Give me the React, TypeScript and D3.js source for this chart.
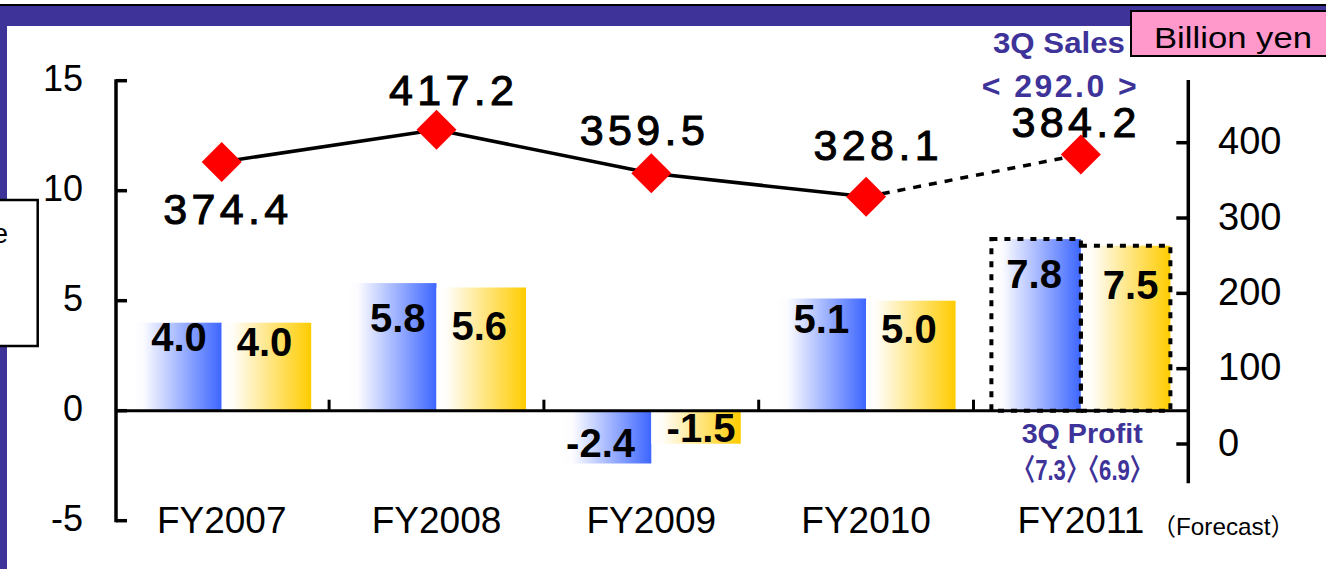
import React from 'react';
import * as d3 from 'd3';

// ---- data ----
const categories = ['FY2007', 'FY2008', 'FY2009', 'FY2010', 'FY2011'];
const profitBlue = [4.0, 5.8, -2.4, 5.1, 7.8];
const profitYellow = [4.0, 5.6, -1.5, 5.0, 7.5];
const sales = [374.4, 417.2, 359.5, 328.1, 384.2];
const leftTicks = [15, 10, 5, 0, -5];
const rightTicks = [0, 100, 200, 300, 400];
const forecastIndex = 4;
const unitLabel = 'Billion yen';
const salesNoteTitle = '3Q Sales';
const salesNoteValue = '< 292.0 >';
const profitNoteTitle = '3Q Profit';
const profitNoteValue = '〈7.3〉〈6.9〉';
const forecastLabel = '（Forecast）';

// label nudges (layout only)
const blueLabelNudge = [[2, 28], [6, 49], [-6, -7], [0, 34], [-2, 49]];
const yellowLabelNudge = [[-2, 33], [-2, 52], [5, -2], [-2, 42], [5, 53]];
const salesLabelNudge = [[4, 62], [15, -25], [-9, -28], [10, -37], [-7, -18]];

const W = 1326;
const H = 569;
const PURPLE = '#3D3399';
const SANS = "'Liberation Sans', Arial, 'Noto Sans CJK JP', sans-serif";
const fmt = (v: number) => v.toFixed(1);

export default function App() {
  const x0 = d3.scaleBand<string>().domain(categories).range([114.3, 1188.3]).padding(0);
  const x1 = d3.scaleBand<string>().domain(['blue', 'yellow']).range([0, x0.bandwidth()]).paddingInner(0).paddingOuter(0.2);
  const yL = d3.scaleLinear().domain([-5, 15]).range([520.7, 80.7]);
  const yR = d3.scaleLinear().domain([0, 400]).range([444, 142.7]);

  const leftAxisX = 116;
  const rightAxisX = 1188.3;
  const zeroY = yL(0);

  const pts = sales.map((v, i) => [x0(categories[i])! + x0.bandwidth() / 2, yR(v)] as [number, number]);
  const line = d3.line();
  const solidPath = line(pts.slice(0, forecastIndex))!;
  const dashPath = line(pts.slice(forecastIndex - 1))!;
  const diamond = d3.symbol(d3.symbolSquare, 800)()!;

  const bars: any[] = [];
  categories.forEach((c, i) => {
    [['blue', profitBlue[i], 'url(#gBlue)', blueLabelNudge[i]], ['yellow', profitYellow[i], 'url(#gYellow)', yellowLabelNudge[i]]].forEach(([k, v, fill, nudge]: any) => {
      const bx = x0(c)! + x1(k)!;
      const bw = x1.bandwidth();
      const top = Math.min(yL(v), zeroY);
      const h = Math.abs(yL(v) - zeroY);
      bars.push({ key: c + k, bx, bw, top, h, fill, v, nudge, i });
    });
  });

  return (
    <svg width={W} height={H} style={{ position: 'absolute', left: 0, top: 0, background: '#fff' }}>
      <defs>
        <linearGradient id="gBlue" x1="0" x2="1" y1="0" y2="0">
          <stop offset="0" stopColor="#FFFFFF" />
          <stop offset="0.12" stopColor="#FCFCFF" />
          <stop offset="1" stopColor="#3D66FF" />
        </linearGradient>
        <linearGradient id="gYellow" x1="0" x2="1" y1="0" y2="0">
          <stop offset="0" stopColor="#FFFFFF" />
          <stop offset="0.12" stopColor="#FFFDF8" />
          <stop offset="1" stopColor="#FFCC00" />
        </linearGradient>
      </defs>

      {/* frame */}
      <rect x={0} y={0} width={W} height={H} fill="#fff" />
      <rect x={0} y={4} width={W} height={2} fill="#000" />
      <rect x={0} y={6} width={W} height={20} fill={PURPLE} />
      <rect x={0} y={6} width={7} height={H - 6} fill={PURPLE} />

      {/* bars */}
      {bars.map((b) => (
        <rect key={b.key} x={b.bx} y={b.top} width={b.bw} height={b.h} fill={b.fill} />
      ))}
      {bars.filter((b) => b.i === forecastIndex).map((b) => (
        <rect key={b.key + 'o'} x={b.bx} y={b.top} width={b.bw} height={b.h} fill="none" stroke="#000" strokeWidth={4} strokeDasharray="6,7" />
      ))}

      {/* zero line and category ticks */}
      <line x1={leftAxisX} x2={rightAxisX} y1={zeroY} y2={zeroY} stroke="#000" strokeWidth={3} />
      {categories.slice(1).map((c) => (
        <line key={c} x1={x0(c)!} x2={x0(c)!} y1={zeroY} y2={zeroY - 11} stroke="#000" strokeWidth={3} />
      ))}

      {/* left axis */}
      <line x1={leftAxisX} x2={leftAxisX} y1={yL(15) - 1.5} y2={yL(-5) + 1.5} stroke="#000" strokeWidth={3.5} />
      {leftTicks.map((t) => (
        <g key={t}>
          <line x1={leftAxisX} x2={leftAxisX + 11} y1={yL(t)} y2={yL(t)} stroke="#000" strokeWidth={3.5} />
          <text x={83} y={yL(t) + 10} textAnchor="end" fontFamily={SANS} fontSize={36} fill="#000">{t}</text>
        </g>
      ))}

      {/* right axis */}
      <line x1={rightAxisX} x2={rightAxisX} y1={80} y2={483.3} stroke="#000" strokeWidth={3.5} />
      {rightTicks.map((t) => (
        <g key={t}>
          <line x1={rightAxisX - 12} x2={rightAxisX} y1={yR(t)} y2={yR(t)} stroke="#000" strokeWidth={3.5} />
          <text x={1218} y={yR(t) + 11.5} textAnchor="start" fontFamily={SANS} fontSize={38} fill="#000">{t}</text>
        </g>
      ))}

      {/* bar labels */}
      {bars.map((b) => (
        <text key={b.key + 't'} x={b.bx + b.bw / 2 + b.nudge[0]} y={yL(b.v) + b.nudge[1]} textAnchor="middle" fontFamily={SANS} fontWeight="bold" fontSize={40} fill="#000">
          {fmt(b.v)}
        </text>
      ))}

      {/* sales line */}
      <path d={solidPath} fill="none" stroke="#000" strokeWidth={3.5} />
      <path d={dashPath} fill="none" stroke="#000" strokeWidth={3.5} strokeDasharray="8,8" />
      {pts.map((p, i) => (
        <path key={i} d={diamond} transform={`translate(${p[0]},${p[1]}) rotate(45)`} fill="#FF0000" />
      ))}
      {pts.map((p, i) => (
        <text key={'s' + i} x={p[0] + salesLabelNudge[i][0]} y={p[1] + salesLabelNudge[i][1]} textAnchor="middle" fontFamily={SANS} fontSize={43} fill="#000" stroke="#000" strokeWidth={1} textLength={125} lengthAdjust="spacing">
          {fmt(sales[i])}
        </text>
      ))}

      {/* category labels */}
      {categories.map((c) => (
        <text key={c + 'c'} x={x0(c)! + x0.bandwidth() / 2} y={533.3} textAnchor="middle" fontFamily={SANS} fontSize={37} fill="#000">{c}</text>
      ))}
      <text x={1151.7} y={535} fontFamily={SANS} fontSize={24} fill="#000" textLength={143} lengthAdjust="spacingAndGlyphs">{forecastLabel}</text>

      {/* notes */}
      <text x={993} y={53.3} fontFamily={SANS} fontWeight="bold" fontSize={30} fill={PURPLE} textLength={132} lengthAdjust="spacingAndGlyphs">{salesNoteTitle}</text>
      <text x={981.7} y={96.7} fontFamily={SANS} fontWeight="bold" fontSize={32} fill={PURPLE} textLength={155} lengthAdjust="spacing">{salesNoteValue}</text>
      <text x={1021.7} y={443.3} fontFamily={SANS} fontWeight="bold" fontSize={28} fill={PURPLE} textLength={121} lengthAdjust="spacingAndGlyphs">{profitNoteTitle}</text>
      <text x={1013} y={480} fontFamily={SANS} fontWeight="bold" fontSize={30} fill={PURPLE} textLength={139} lengthAdjust="spacingAndGlyphs">{profitNoteValue}</text>

      {/* unit box */}
      <rect x={1131} y={11} width={200} height={45} fill="#FF99CC" stroke="#000" strokeWidth={2} />
      <text x={1154} y={48} fontFamily={SANS} fontSize={30} fill="#000" textLength={158} lengthAdjust="spacingAndGlyphs">{unitLabel}</text>

      {/* clipped legend box at left */}
      <rect x={-2} y={200} width={39.7} height={146} fill="#fff" stroke="#000" strokeWidth={2.5} />
      <text x={8} y={243} textAnchor="end" fontFamily={SANS} fontSize={28} fill="#000">e</text>
    </svg>
  );
}
